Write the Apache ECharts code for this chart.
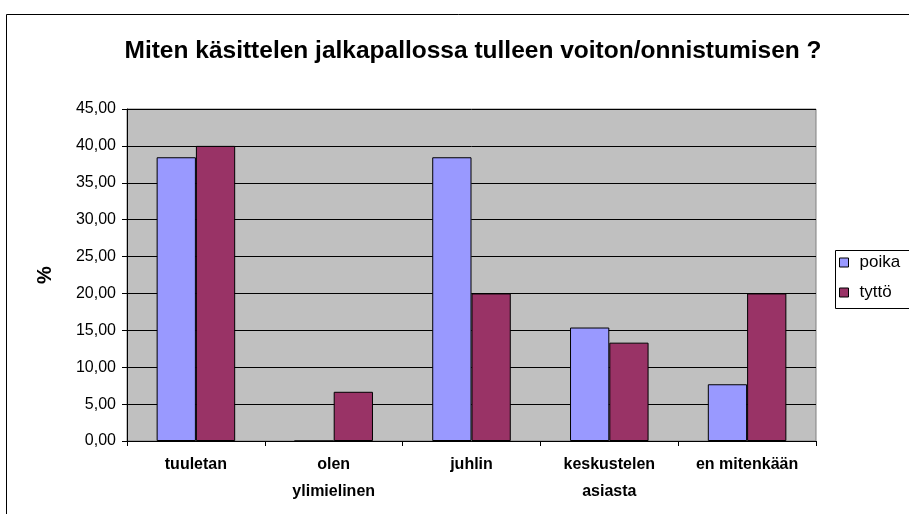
<!DOCTYPE html>
<html><head><meta charset="utf-8">
<script src="https://cdn.jsdelivr.net/npm/echarts@6/dist/echarts.min.js"></script>
<style>html,body{margin:0;padding:0;background:#fff}#c{width:909px;height:514px}</style>
</head><body><div id="c"></div>
<script>
const categories = ['tuuletan', 'olen\nylimielinen', 'juhlin', 'keskustelen\nasiasta', 'en mitenkään'];
const poika = [38.46, 0, 38.46, 15.38, 7.69];
const tytto = [40.00, 6.67, 20.00, 13.33, 20.00];
const seriesNames = ['poika', 'tyttö'];
const titleText = 'Miten käsittelen jalkapallossa tulleen voiton/onnistumisen ?';

const chart = echarts.init(document.getElementById('c'));
const font = 'Liberation Sans, Arial, sans-serif';
chart.setOption({
  animation: false,
  textStyle: { fontFamily: font },
  title: {
    text: titleText, left: 468, textAlign: 'center', top: 34,
    textStyle: { fontFamily: font, fontSize: 24.5, fontWeight: 'bold', color: '#000' }
  },
  graphic: [{
    type: 'rect', left: 4, top: 12, silent: true, z: -1,
    shape: { width: 1000, height: 1000 },
    style: { fill: 'none', stroke: '#000', lineWidth: 1 }
  }, {
    type: 'rect', left: 833, top: 248, silent: true, z: 10,
    shape: { width: 120, height: 58 },
    style: { fill: 'none', stroke: '#000', lineWidth: 1 }
  }],
  legend: {
    orient: 'vertical', left: 833, top: 248,
    data: seriesNames,
    itemWidth: 9, itemHeight: 9, itemGap: 13,
    icon: 'rect',
    borderWidth: 0, padding: [6, 6, 6, 6],
    itemStyle: { borderColor: '#000', borderWidth: 1 },
    textStyle: { fontFamily: font, fontSize: 17, color: '#000', padding: [0, 0, 0, 6] }
  },
  grid: {
    left: 127, right: 93, top: 109, bottom: 73,
    show: true, backgroundColor: '#C0C0C0', borderColor: '#808080', borderWidth: 1
  },
  xAxis: {
    type: 'category', data: categories,
    axisLine: { lineStyle: { color: '#000', width: 1 } },
    axisTick: { show: true, length: 5, lineStyle: { color: '#000' } },
    axisLabel: {
      color: '#000', fontFamily: font, fontSize: 16, fontWeight: 'bold',
      margin: 10, lineHeight: 27, interval: 0
    }
  },
  yAxis: {
    type: 'value', min: 0, max: 45, interval: 5,
    name: '%', nameLocation: 'middle', nameGap: 72, nameRotate: 90,
    nameTextStyle: { fontFamily: font, fontSize: 20, fontWeight: 'bold', color: '#000' },
    axisLine: { show: true, lineStyle: { color: '#000', width: 1 } },
    axisTick: { show: true, length: 5, lineStyle: { color: '#000' } },
    splitLine: { show: true, lineStyle: { color: '#000', width: 1 } },
    axisLabel: {
      color: '#000', fontFamily: font, fontSize: 16, margin: 11,
      formatter: v => v.toFixed(2).replace('.', ',')
    }
  },
  series: [
    { name: seriesNames[0], type: 'bar', data: poika, barGap: '0%', barCategoryGap: '43%',
      itemStyle: { color: '#9999FF', borderColor: '#000', borderWidth: 1 } },
    { name: seriesNames[1], type: 'bar', data: tytto,
      itemStyle: { color: '#993366', borderColor: '#000', borderWidth: 1 } }
  ]
});
</script></body></html>
